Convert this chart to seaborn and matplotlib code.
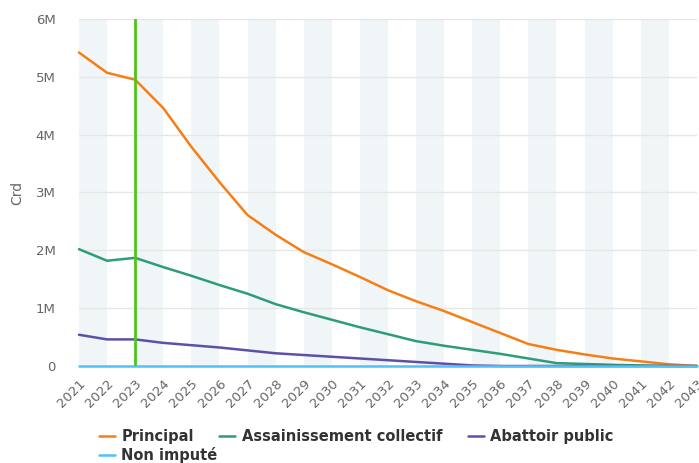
import pandas as pd
import numpy as np
import matplotlib.pyplot as plt
import seaborn as sns

# Années et capital restant dû par budget
annees = list(range(2021, 2044))
principal = [5.42, 5.07, 4.95, 4.46, 3.79, 3.18, 2.61, 2.27, 1.97, 1.76, 1.54, 1.31,
             1.12, 0.95, 0.76, 0.57, 0.38, 0.28, 0.20, 0.13, 0.08, 0.03, 0.0]
assainissement = [2.02, 1.82, 1.87, 1.71, 1.56, 1.40, 1.25, 1.07, 0.93, 0.80, 0.67, 0.55,
                  0.43, 0.35, 0.28, 0.21, 0.13, 0.05, 0.035, 0.02, 0.01, 0.0, 0.0]
abattoir = [0.54, 0.46, 0.46, 0.40, 0.36, 0.32, 0.27, 0.22, 0.19, 0.16, 0.13, 0.10,
            0.07, 0.04, 0.01, 0.0, 0.0, 0.0, 0.0, 0.0, 0.0, 0.0, 0.0]
non_impute = [0.0] * 23
annee_courante = 2023

series = {
    "Principal": principal,
    "Assainissement collectif": assainissement,
    "Abattoir public": abattoir,
    "Non imputé": non_impute,
}
couleurs = ["#f57f17", "#2e9c7a", "#5e4fa8", "#4fc3f7"]

df = pd.concat(
    [pd.DataFrame({"Année": annees, "Crd": np.array(v) * 1e6, "Budget": k})
     for k, v in series.items()],
    ignore_index=True,
)

sns.set_style("white")
fig = plt.figure(figsize=(6.99, 4.63), dpi=100)
ax = fig.add_axes([0.113, 0.2095, 0.884, 0.7495])

# Bandes alternées
for a in range(2021, 2043, 2):
    ax.axvspan(a, a + 1, color="#f0f5f8", zorder=0, lw=0)

sns.lineplot(data=df, x="Année", y="Crd", hue="Budget", palette=couleurs,
             linewidth=1.8, ax=ax, legend=True, zorder=3)
for ln in ax.lines:
    ln.set_clip_on(False)
ax.axvline(annee_courante, color="#52c41a", lw=2, zorder=4)

ax.set_xlim(2021, 2043)
ax.set_ylim(0, 6e6)
ax.set_yticks(np.arange(0, 7e6, 1e6))
ax.set_yticklabels(["0"] + [f"{i}M" for i in range(1, 7)])
ax.set_xticks(annees)
ax.set_xticklabels([str(a) for a in annees], rotation=45, ha="right",
                   rotation_mode="anchor")
ax.grid(axis="y", color="#e6e6e6", lw=1, zorder=1)
ax.tick_params(axis="y", length=0, labelsize=9.5, colors="#666666", pad=17)
ax.tick_params(axis="x", length=5, color="#ccd6eb", labelsize=9.5,
               labelcolor="#666666", pad=3)
ax.set_xlabel("")
ax.set_ylabel("Crd", color="#666666", fontsize=10, labelpad=8)
for s in ax.spines.values():
    s.set_visible(False)

handles, labels = ax.get_legend_handles_labels()
ax.get_legend().remove()
opts = dict(frameon=False, prop={"weight": "bold", "size": 10.5},
            labelcolor="#333333", handlelength=1.1, handletextpad=0.45,
            borderpad=0, borderaxespad=0)
fig.legend(handles[:3], labels[:3], loc="upper left",
           bbox_to_anchor=(0.141, 0.074), ncol=3, columnspacing=1.75, **opts)
fig.legend(handles[3:], labels[3:], loc="upper left",
           bbox_to_anchor=(0.141, 0.035), **opts)

fig.savefig("out.png", dpi=100)
